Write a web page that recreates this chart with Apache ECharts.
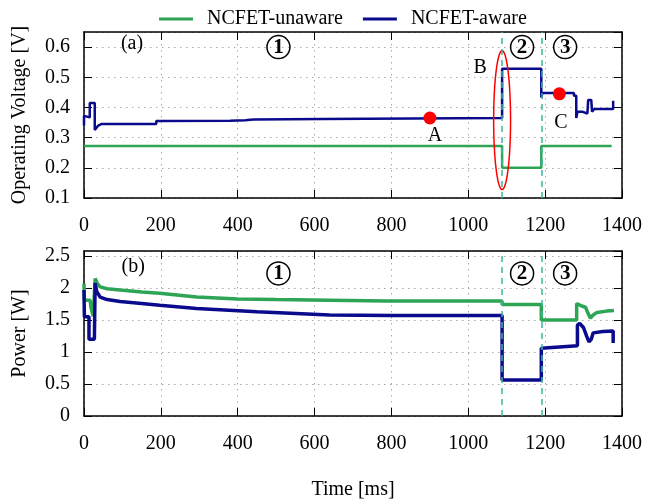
<!DOCTYPE html>
<html>
<head>
<meta charset="utf-8">
<script src="https://cdn.jsdelivr.net/npm/echarts@6/dist/echarts.min.js"></script>
<style>
  html, body { margin: 0; padding: 0; background: #fff; }
  #chart { width: 647px; height: 502px; }
</style>
</head>
<body>
<div id="chart"></div>
<script>
// [time ms, value] pairs
const unawareVolt = [[0, 0.272], [1088, 0.272], [1088, 0.2], [1190, 0.2], [1190, 0.272], [1373, 0.272]];
const awareVolt = [
  [0, 0.34], [0, 0.372], [1, 0.367], [15, 0.367], [15, 0.415], [28, 0.415], [28, 0.325], [33, 0.325],
  [37, 0.34], [45, 0.345], [188, 0.345], [188, 0.355], [380, 0.356], [420, 0.358], [440, 0.36],
  [620, 0.362], [625, 0.365], [1088, 0.365], [1088, 0.528], [1190, 0.528], [1190, 0.433], [1193, 0.433],
  [1193, 0.448], [1275, 0.448], [1275, 0.439], [1281, 0.439], [1281, 0.365], [1284, 0.365], [1284, 0.386],
  [1296, 0.386], [1296, 0.38], [1310, 0.38], [1312, 0.425], [1320, 0.425], [1322, 0.386], [1328, 0.395],
  [1377, 0.395], [1377, 0.422]
];
const unawarePower = [
  [0, 2.07], [1, 1.81], [16, 1.81], [18, 1.7], [24, 1.56], [27, 1.56], [29, 2.15], [34, 2.08],
  [42, 2.02], [60, 1.99], [94, 1.97], [150, 1.94], [197, 1.92], [293, 1.86], [400, 1.83], [500, 1.82],
  [639, 1.81], [786, 1.8], [1088, 1.8], [1088, 1.745], [1190, 1.745], [1190, 1.5], [1282, 1.5],
  [1282, 1.76], [1295, 1.72], [1305, 1.7], [1312, 1.6], [1318, 1.53], [1325, 1.58], [1335, 1.62],
  [1360, 1.64], [1379, 1.65]
];
const awarePower = [
  [0, 1.97], [1, 1.55], [13, 1.55], [13, 1.2], [27, 1.2], [29, 2.08], [33, 1.95], [42, 1.86],
  [60, 1.82], [94, 1.79], [150, 1.76], [197, 1.73], [293, 1.68], [450, 1.63], [639, 1.58], [800, 1.57],
  [1088, 1.57], [1088, 0.5625], [1190, 0.5625], [1190, 1.06], [1284, 1.1], [1284, 1.42], [1290, 1.45],
  [1300, 1.38], [1308, 1.25], [1314, 1.16], [1320, 1.2], [1325, 1.3], [1350, 1.32], [1377, 1.33],
  [1377, 1.14]
];
const phaseBounds = [1088, 1190];
const redPoints = [[900, 0.365], [1237, 0.445]];
const noteTexts = ['(a)', 'A', 'B', 'C'];
const notePos = [[125, 0.612], [913, 0.306], [1031, 0.53], [1241, 0.35]];
const phaseNames = ['1', '2', '3'];
const phaseX = [506, 1140, 1252];
const phaseVoltY = 0.6;
const phasePowerY = 2.23;
const panelBLabel = ['(b)', 128, 2.33];
const ellipse = [1088, 0.358, 22, 0.23]; // centre x, centre y, half width (ms), half height (V)

const FONT = 'Liberation Serif';
const GREEN = '#2ea455';
const BLUE = '#0a0a8c';
const TEAL = '#3cb59a';

const chart = echarts.init(document.getElementById('chart'), null, { renderer: 'canvas' });

function xAx(grid, pos) {
  const main = pos === 'bottom';
  return {
    type: 'value', gridIndex: grid, position: pos, min: 0, max: 1400, interval: 200,
    axisLine: { show: true, onZero: false, lineStyle: { color: '#000', width: 1.5 } },
    axisTick: { show: true, inside: true, length: 8, lineStyle: { color: '#000' } },
    axisLabel: { show: main, margin: 18, fontFamily: FONT, fontSize: 20, color: '#000', formatter: v => String(v) },
    splitLine: { show: main, lineStyle: { color: '#aaa', type: [1.5, 4.5] } },
    name: main && grid === 1 ? 'Time [ms]' : '',
    nameLocation: 'middle', nameGap: 64,
    nameTextStyle: { fontFamily: FONT, fontSize: 20, color: '#000' }
  };
}
function yAx(grid, pos, min, max, interval, name) {
  const main = pos === 'left';
  return {
    type: 'value', gridIndex: grid, position: pos, min: min, max: max, interval: interval,
    axisLine: { show: true, onZero: false, lineStyle: { color: '#000', width: 1.5 } },
    axisTick: { show: true, inside: true, length: 8, lineStyle: { color: '#000' } },
    axisLabel: { show: main, showMaxLabel: false, margin: 14, fontFamily: FONT, fontSize: 20, color: '#000' },
    splitLine: { show: main, lineStyle: { color: '#aaa', type: [1.5, 4.5] } },
    name: main ? name : '', nameLocation: 'middle', nameGap: 54,
    nameTextStyle: { fontFamily: FONT, fontSize: 20, color: '#000' }
  };
}

const dashLines = {
  silent: true, symbol: 'none', label: { show: false },
  lineStyle: { color: TEAL, type: [6, 5], width: 1.5 },
  data: phaseBounds.map(v => ({ xAxis: v }))
};

function textSeries(xi, yi, items, label) {
  return {
    type: 'scatter', xAxisIndex: xi, yAxisIndex: yi, symbolSize: 1, silent: true, z: 5,
    itemStyle: { color: 'rgba(0,0,0,0)', opacity: 1 },
    labelLayout: { hideOverlap: false },
    label: Object.assign({ show: true, position: 'inside' }, label),
    data: items
  };
}

const circleLabel = {
  formatter: p => '{c|' + p.name + '}',
  rich: {
    c: {
      width: 23, height: 23, lineHeight: 24, borderRadius: 13, borderColor: '#000', borderWidth: 1.5,
      align: 'center', fontFamily: FONT, fontWeight: 'bold', fontSize: 21, color: '#000'
    }
  }
};
const plainLabel = { formatter: p => p.name, fontFamily: FONT, fontSize: 20, color: '#000' };

const option = {
  animation: false,
  legend: {
    left: 154, top: 4, itemWidth: 34, itemHeight: 3, itemGap: 20, icon: 'rect',
    textStyle: { fontFamily: FONT, fontSize: 20, color: '#000', padding: [0, 0, 0, 9] },
    data: ['NCFET-unaware', 'NCFET-aware']
  },
  grid: [
    { left: 84, right: 25, top: 32, height: 166 },
    { left: 84, right: 25, top: 251, height: 165 }
  ],
  xAxis: [xAx(0, 'bottom'), xAx(0, 'top'), xAx(1, 'bottom'), xAx(1, 'top')],
  yAxis: [
    yAx(0, 'left', 0.1, 0.65, 0.1, 'Operating Voltage [V]'), yAx(0, 'right', 0.1, 0.65, 0.1),
    yAx(1, 'left', 0, 2.58, 0.5, 'Power [W]'), yAx(1, 'right', 0, 2.58, 0.5)
  ],
  series: [
    {
      name: 'NCFET-unaware', type: 'line', xAxisIndex: 0, yAxisIndex: 0, data: unawareVolt,
      showSymbol: false, lineStyle: { color: GREEN, width: 2.5 }, itemStyle: { color: GREEN },
      markLine: dashLines
    },
    {
      name: 'NCFET-aware', type: 'line', xAxisIndex: 0, yAxisIndex: 0, data: awareVolt,
      showSymbol: false, lineStyle: { color: BLUE, width: 2.5 }, itemStyle: { color: BLUE }
    },
    {
      name: 'NCFET-unaware', type: 'line', xAxisIndex: 2, yAxisIndex: 2, data: unawarePower,
      showSymbol: false, lineStyle: { color: GREEN, width: 3.5 }, itemStyle: { color: GREEN },
      markLine: dashLines
    },
    {
      name: 'NCFET-aware', type: 'line', xAxisIndex: 2, yAxisIndex: 2, data: awarePower,
      showSymbol: false, lineStyle: { color: BLUE, width: 3.5 }, itemStyle: { color: BLUE }
    },
    {
      type: 'custom', xAxisIndex: 0, yAxisIndex: 0, silent: true, z: 4, data: [ellipse],
      renderItem: function (params, api) {
        const c = api.coord([api.value(0), api.value(1)]);
        const e = api.coord([api.value(0) + api.value(2), api.value(1) + api.value(3)]);
        const rx = e[0] - c[0], ry = c[1] - e[1];
        const pts = [];
        for (let i = 0; i <= 72; i++) {
          const a = i / 72 * Math.PI * 2;
          pts.push([c[0] + rx * Math.cos(a), c[1] + ry * Math.sin(a)]);
        }
        return { type: 'polyline', shape: { points: pts }, style: { stroke: '#f00', lineWidth: 1.5, fill: null } };
      }
    },
    {
      type: 'scatter', xAxisIndex: 0, yAxisIndex: 0, symbolSize: 13, silent: true, z: 4,
      itemStyle: { color: '#ff0000', opacity: 1 }, data: redPoints
    },
    textSeries(0, 0, noteTexts.map((t, i) => ({ name: t, value: notePos[i] })), plainLabel),
    textSeries(2, 2, [{ name: panelBLabel[0], value: [panelBLabel[1], panelBLabel[2]] }], plainLabel),
    textSeries(0, 0, phaseNames.map((n, i) => ({ name: n, value: [phaseX[i], phaseVoltY] })), circleLabel),
    textSeries(2, 2, phaseNames.map((n, i) => ({ name: n, value: [phaseX[i], phasePowerY] })), circleLabel)
  ]
};

chart.setOption(option);
</script>
</body>
</html>
